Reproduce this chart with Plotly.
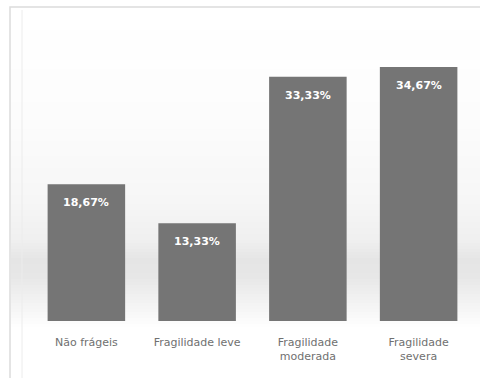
import plotly.graph_objects as go

categories = ["Não frágeis", "Fragilidade leve", "Fragilidade<br>moderada", "Fragilidade<br>severa"]
values = [18.67, 13.33, 33.33, 34.67]
labels = ["18,67%", "13,33%", "33,33%", "34,67%"]

W, H = 480, 378
ML, MR, MT, MB = 31, 6, 28, 57
PW, PH = W - ML - MR, H - MT - MB

fig = go.Figure()
fig.add_trace(go.Bar(
    x=categories, y=values,
    marker=dict(color="#757575", line=dict(width=0)),
    hoverinfo="skip",
))

for c, v, t in zip(categories, values, labels):
    fig.add_annotation(x=c, y=v, text=t, showarrow=False, yanchor="top", yshift=-10,
                       font=dict(family="DejaVu Sans", size=11, color="white", weight="bold"))

# pixel -> paper coords (paper is relative to plot area)
def px(p):
    return (p - ML) / PW
def py(p):
    return (H - MB - p) / PH

shapes = []
shapes.append(dict(type="rect", xref="paper", yref="paper", x0=px(10), x1=px(482), y0=py(380), y1=py(7),
                   fillcolor="#ffffff", line=dict(color="#dcdcdc", width=1.5), layer="below"))

# background vertical gradient (pixel y, grey level) stops
stops = [(12, 255), (120, 252), (200, 246), (240, 239), (258, 229), (275, 231), (295, 240), (315, 249), (326, 255)]
step = 3
y = stops[0][0]
while y < stops[-1][0]:
    for (ya, ga), (yb, gb) in zip(stops[:-1], stops[1:]):
        if ya <= y < yb:
            g = round(ga + (gb - ga) * (y - ya) / (yb - ya))
            break
    col = f"rgb({g},{g},{g})"
    shapes.append(dict(type="rect", xref="paper", yref="paper", x0=px(11), x1=px(481),
                       y0=py(y + step), y1=py(y), fillcolor=col, line=dict(width=0), layer="below"))
    y += step

shapes.append(dict(type="line", xref="paper", yref="paper", x0=px(22), x1=px(22), y0=py(378), y1=py(10),
                   line=dict(color="#ececec", width=1), layer="below"))

fig.update_layout(
    width=W, height=H,
    margin=dict(l=ML, r=MR, t=MT, b=MB),
    paper_bgcolor="white", plot_bgcolor="rgba(0,0,0,0)",
    bargap=0.3,
    showlegend=False,
    shapes=shapes,
    xaxis=dict(showgrid=False, showline=False, zeroline=False, ticks="",
               ticklabelstandoff=13,
               tickfont=dict(family="DejaVu Sans", size=11, color="#707070")),
    yaxis=dict(range=[0, 40], visible=False),
)
fig.write_html("out.html")
